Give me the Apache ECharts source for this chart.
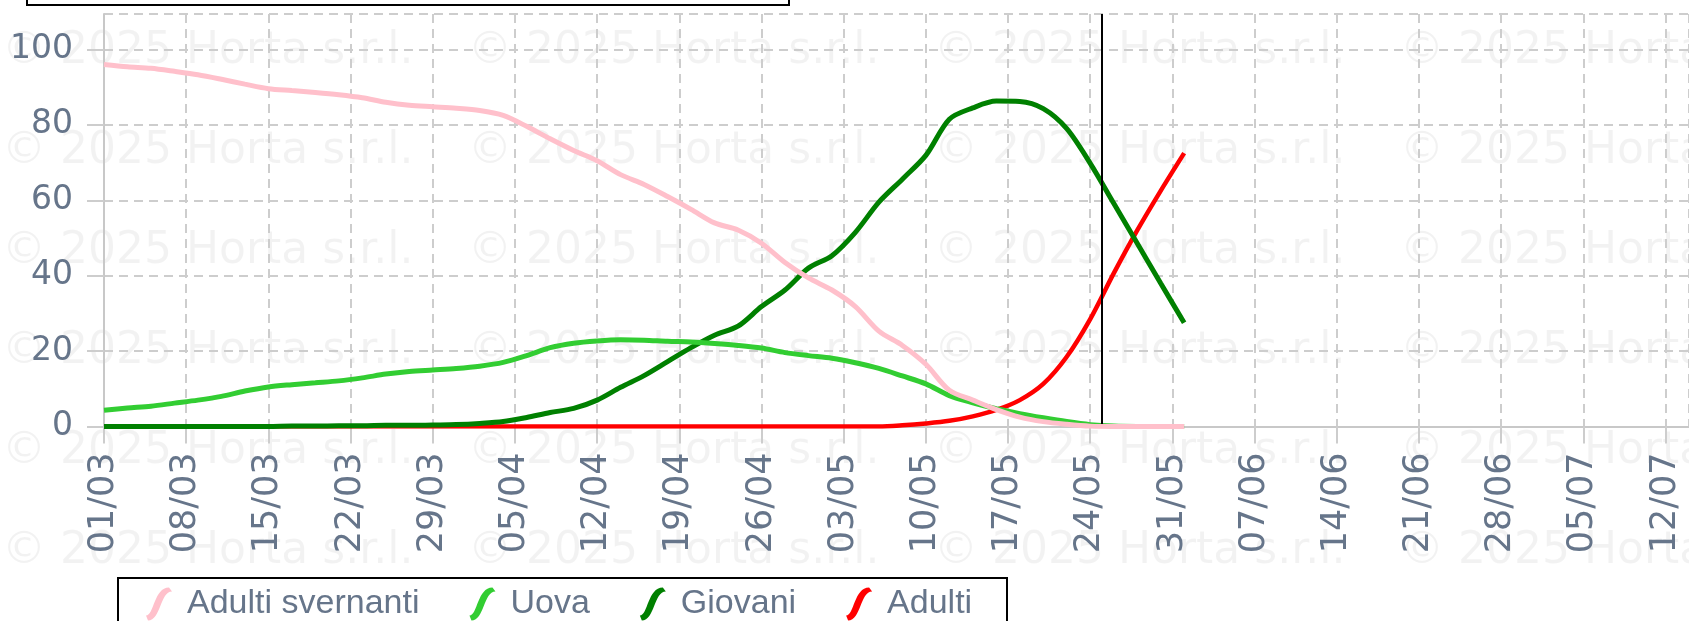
<!DOCTYPE html>
<html>
<head>
<meta charset="utf-8">
<script src="https://cdn.jsdelivr.net/npm/echarts@6/dist/echarts.min.js"></script>
<style>
  html, body { margin: 0; padding: 0; background: #fff; }
  #chart { width: 1689px; height: 621px; }
</style>
</head>
<body>
<div id="chart"></div>
<script>
// days since 01/03
const days = [0, 2, 4, 6, 8, 10, 12, 14, 16, 18, 20, 22, 24, 26, 28, 30, 32, 34, 36, 38, 40, 42, 44, 46,
  48, 50, 52, 54, 56, 58, 60, 62, 64, 66, 68, 70, 72, 74, 76, 78, 80, 82, 84, 86, 88, 90, 92]

const tickLabels = ['01/03', '08/03', '15/03', '22/03', '29/03', '05/04', '12/04', '19/04', '26/04', '03/05',
  '10/05', '17/05', '24/05', '31/05', '07/06', '14/06', '21/06', '28/06', '05/07', '12/07']

const adultiSvernanti = [96, 95.4, 95, 94.2, 93.3, 92.1, 90.8, 89.6, 89.1, 88.6, 88, 87.2, 86, 85.2, 84.8, 84.4,
  83.8, 82.5, 79.6, 76.3, 73.2, 70.5, 66.8, 64.2, 61, 57.6, 54, 52.1, 48.6, 43.5, 39.4, 36.2, 31.8, 25.3, 21.5,
  16.5, 9.6, 7, 4.5, 2.5, 1.3, 0.6, 0.1, 0, 0, 0, 0]

const uova = [4.3, 4.9, 5.4, 6.2, 7.0, 8.0, 9.4, 10.5, 11.1, 11.6, 12.1, 12.9, 13.9, 14.6, 15.0, 15.4, 16.0, 17.0,
  18.8, 20.9, 22.1, 22.7, 23.0, 22.9, 22.6, 22.4, 22.0, 21.5, 20.8, 19.6, 18.8, 18.1, 16.9, 15.4, 13.4, 11.3, 8.2,
  6.3, 4.7, 3.4, 2.3, 1.3, 0.5, 0.1, 0, 0, 0]

const giovani = [0, 0, 0, 0, 0, 0, 0, 0, 0.1, 0.1, 0.2, 0.2, 0.3, 0.3, 0.4, 0.5, 0.8, 1.3, 2.4, 3.7, 4.8, 7.0, 10.4,
  13.5, 17.2, 20.9, 24.2, 26.6, 31.8, 36.2, 42.0, 45.3, 51.5, 59.5, 65.6, 71.9, 81.5, 84.5, 86.3, 86.2, 84.3, 79.0,
  69.8, 59.2, 48.6, 38.0, 27.5]

const adulti = [0, 0, 0, 0, 0, 0, 0, 0, 0, 0, 0, 0, 0, 0, 0, 0, 0, 0, 0, 0, 0, 0, 0, 0, 0, 0, 0, 0, 0, 0, 0, 0, 0,
  0, 0.3, 0.8, 1.5, 2.7, 4.4, 7.0, 11.3, 18.5, 28.5, 40.6, 52.0, 62.5, 72.5]

const todayDay = 85 // 25/05

const labelColor = '#66758a'
const gridColor = '#cdcdcd'
const legendIcon = 'path://M1,29 C9,29 9,1 24,1 L27,5 C15,5 16,34 3,34 Z'

const toPairs = (values) => days.map((d, i) => [d, values[i]])

const watermark = []
for (const y of [52, 152, 252, 352, 452, 552]) {
  for (const x of [2, 468, 934, 1400]) {
    watermark.push({
      type: 'text',
      z: -1,
      silent: true,
      style: {
        x, y,
        text: '© 2025 Horta s.r.l.',
        fill: 'rgba(0,0,0,0.05)',
        font: '44px "DejaVu Sans"',
        verticalAlign: 'middle',
      },
    })
  }
}

const chart = echarts.init(document.getElementById('chart'), null, { renderer: 'canvas' })

const line = (name, values, color, z, width) => ({
  name,
  type: 'line',
  data: toPairs(values),
  z,
  smooth: 0.3,
  showSymbol: false,
  color,
  lineStyle: { color, width },
})

const series = [
  line('Adulti', adulti, '#ff0000', 2, 4.5),
  line('Giovani', giovani, '#008000', 3, 5),
  line('Uova', uova, '#32cd32', 4, 5),
  line('Adulti svernanti', adultiSvernanti, '#ffc0cb', 5, 5),
]
series[0].markLine = {
  silent: true,
  symbol: ['none', 'none'],
  label: { show: false },
  lineStyle: { color: '#000', width: 2, type: 'solid' },
  data: [{ xAxis: todayDay }],
}

chart.setOption({
  animation: false,
  grid: { left: 104, right: 0, top: 14, bottom: 194.5 },
  xAxis: {
    type: 'value',
    min: 0,
    max: 135,
    interval: 7,
    axisLine: { show: true, onZero: false, lineStyle: { color: '#c8c8c8', width: 2 } },
    axisTick: { show: true, length: 17, lineStyle: { color: gridColor, width: 2 } },
    axisLabel: {
      rotate: 90,
      margin: 26,
      color: labelColor,
      fontFamily: 'DejaVu Sans',
      fontSize: 35,
      showMaxLabel: false,
      formatter: (v) => tickLabels[v / 7] || '',
    },
    splitLine: { show: true, lineStyle: { color: gridColor, width: 2, type: [9, 6] } },
  },
  yAxis: {
    type: 'value',
    min: 0,
    max: 109.4,
    interval: 20,
    axisLine: { show: true, lineStyle: { color: '#c8c8c8', width: 2 } },
    axisTick: { show: true, length: 17, lineStyle: { color: gridColor, width: 2 } },
    axisLabel: {
      margin: 31,
      color: labelColor,
      fontFamily: 'DejaVu Sans',
      fontSize: 33,
      showMaxLabel: false,
    },
    splitLine: { show: true, lineStyle: { color: gridColor, width: 2, type: [9, 6] } },
  },
  legend: {
    data: ['Adulti svernanti', 'Uova', 'Giovani', 'Adulti'],
    left: 146,
    top: 587,
    padding: 0,
    itemWidth: 28,
    itemHeight: 33,
    itemGap: 50,
    icon: legendIcon,
    itemStyle: { borderWidth: 0 },
    textStyle: {
      color: labelColor,
      fontFamily: 'Liberation Sans',
      fontSize: 34,
      rich: { gap: { width: 9 } },
    },
    formatter: (name) => '{gap| }' + name,
  },
  graphic: [
    ...watermark,
    {
      type: 'rect',
      silent: true,
      shape: { x: 27, y: -20, width: 762, height: 25 },
      style: { fill: 'none', stroke: '#000', lineWidth: 2 },
    },
    {
      type: 'rect',
      silent: true,
      shape: { x: 118, y: 578, width: 889, height: 60 },
      style: { fill: 'none', stroke: '#000', lineWidth: 2 },
    },
  ],
  series,
})
</script>
</body>
</html>
